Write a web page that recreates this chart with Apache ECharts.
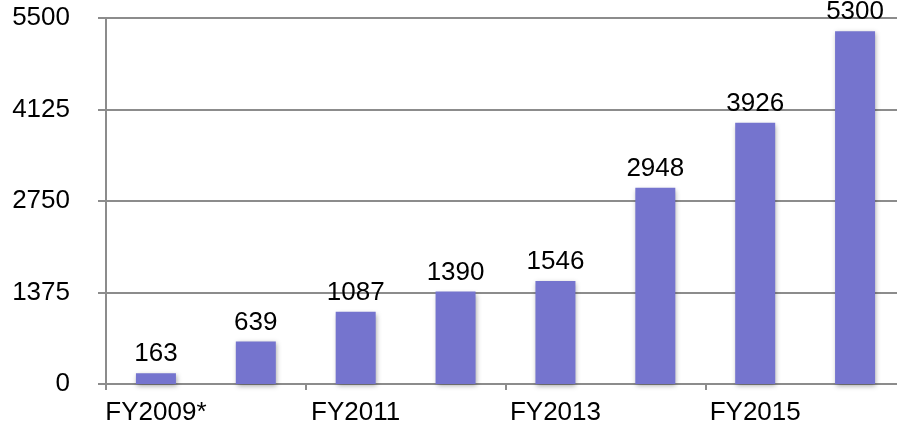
<!DOCTYPE html>
<html>
<head>
<meta charset="utf-8">
<script src="https://cdn.jsdelivr.net/npm/echarts@6/dist/echarts.min.js"></script>
<style>
  html, body { margin: 0; padding: 0; background: #fff; }
  #chart { width: 897px; height: 428px; }
</style>
</head>
<body>
<div id="chart"></div>
<script>
const categories = ['FY2009*', 'FY2010', 'FY2011', 'FY2012', 'FY2013', 'FY2014', 'FY2015', 'FY2016'];
const values = [163, 639, 1087, 1390, 1546, 2948, 3926, 5300];
const yTicks = [0, 1375, 2750, 4125, 5500];

const FONT = 'Liberation Sans, Arial, sans-serif';

const chart = echarts.init(document.getElementById('chart'));
chart.setOption({
  animation: false,
  grid: {
    left: 106, width: 799, top: 18, bottom: 44,
    containLabel: false,
    outerBoundsMode: 'none'
  },
  xAxis: {
    type: 'category',
    data: categories,
    axisLine: { lineStyle: { color: '#8c8c8c', width: 2 } },
    axisTick: { show: true, length: 6, lineStyle: { color: '#8c8c8c', width: 2 } },
    axisLabel: {
      interval: 1,
      color: '#000',
      fontFamily: FONT,
      fontSize: 26,
      margin: 16
    }
  },
  yAxis: {
    type: 'value',
    min: yTicks[0],
    max: yTicks[yTicks.length - 1],
    interval: yTicks[1] - yTicks[0],
    axisLine: { show: true, lineStyle: { color: '#8c8c8c', width: 2 } },
    axisTick: { show: true, length: 8, lineStyle: { color: '#8c8c8c', width: 2 } },
    splitLine: { show: true, lineStyle: { color: '#8c8c8c', width: 2 } },
    axisLabel: {
      color: '#000',
      fontFamily: FONT,
      fontSize: 26,
      margin: 36,
      formatter: v => String(v)
    }
  },
  series: [{
    type: 'bar',
    data: values,
    barWidth: 40,
    itemStyle: {
      color: '#7574ce',
      shadowColor: 'rgba(0,0,0,0.35)',
      shadowBlur: 5,
      shadowOffsetX: 1,
      shadowOffsetY: 2
    },
    label: {
      show: true,
      position: 'top',
      distance: 6,
      color: '#000',
      fontFamily: FONT,
      fontSize: 26
    }
  }]
});
</script>
</body>
</html>
